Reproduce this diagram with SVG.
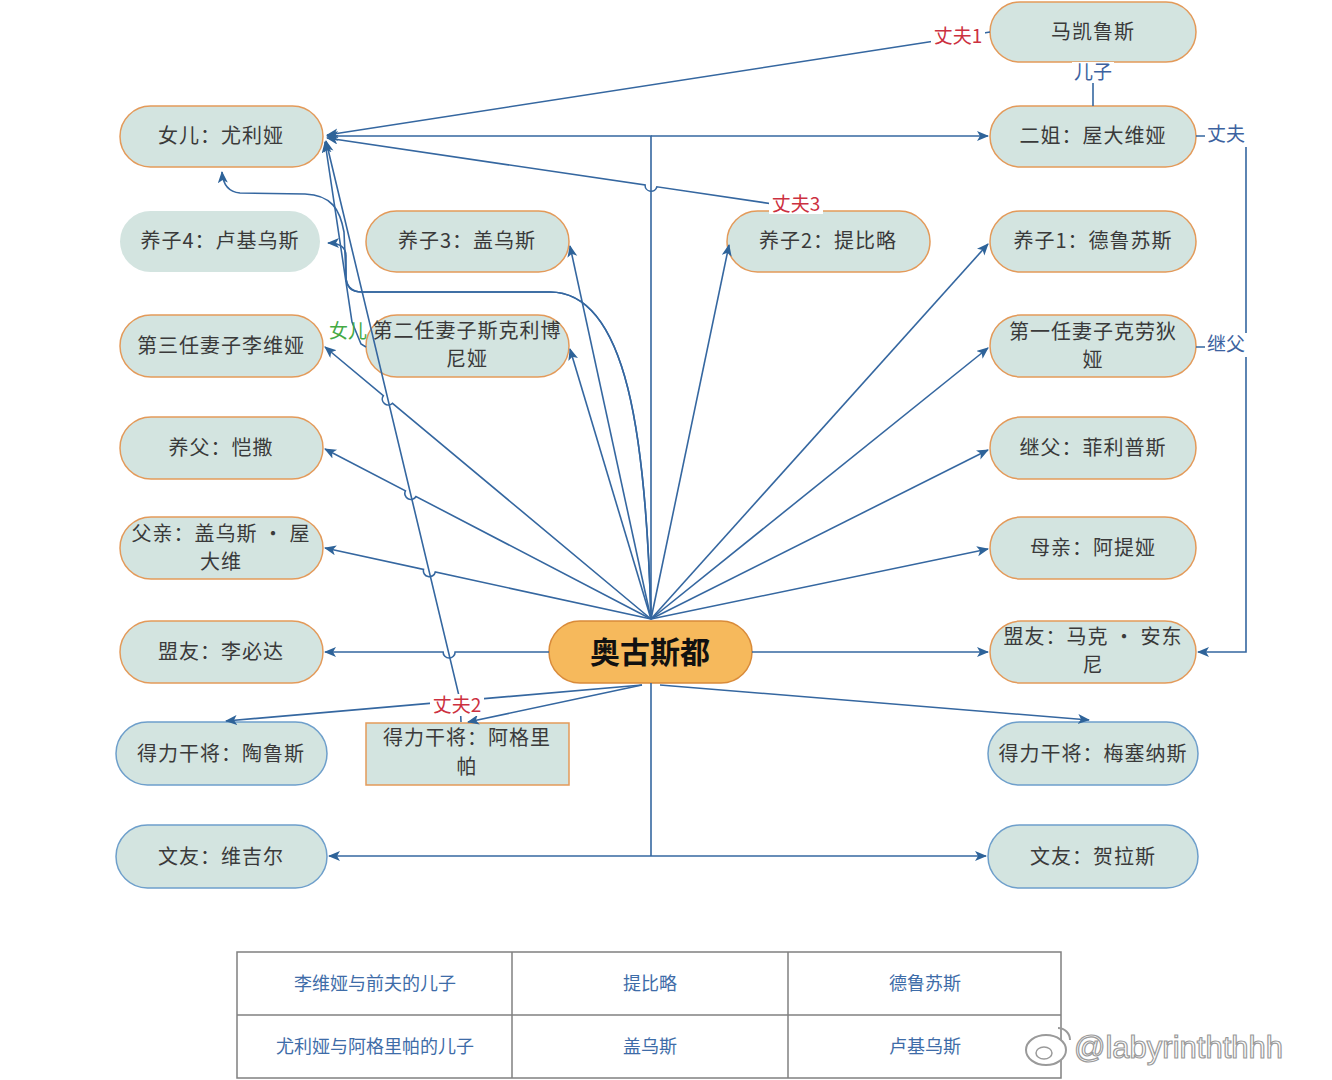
<svg xmlns="http://www.w3.org/2000/svg" width="1332" height="1080" viewBox="0 0 1332 1080">
<style>
.n{fill:#D3E4E0;stroke:#E39A5A;stroke-width:1.5}
.nb{fill:#D3E4E0;stroke:#6E9FCB;stroke-width:1.5}
.nn{fill:#D3E4E0;stroke:none}
.t{font-family:"Noto Sans CJK SC","Liberation Sans",sans-serif;font-size:20px;fill:#3a3a3a;text-anchor:middle;letter-spacing:1px}
.c{fill:none;stroke:#3567A0;stroke-width:1.6}
.ca{fill:none;stroke:#3567A0;stroke-width:1.6;marker-end:url(#ar)}
.lr{font-family:"Noto Sans CJK SC","Liberation Sans",sans-serif;font-size:19px;fill:#CC3040;text-anchor:middle}
.lb{font-family:"Noto Sans CJK SC","Liberation Sans",sans-serif;font-size:19px;fill:#3C62A0;text-anchor:middle}
.lg{font-family:"Noto Sans CJK SC","Liberation Sans",sans-serif;font-size:19px;fill:#44AA44;text-anchor:middle}
.bg{fill:#ffffff}
.tb{font-family:"Noto Sans CJK SC","Liberation Sans",sans-serif;font-size:18px;fill:#3E6CA8;text-anchor:middle}
</style>
<defs>
<marker id="ar" markerUnits="userSpaceOnUse" markerWidth="14" markerHeight="12" refX="11" refY="5" orient="auto">
<path d="M0,0 L12,5 L0,10 L3,5 z" fill="#2E6399"/>
</marker>
</defs>
<rect width="1332" height="1080" fill="#ffffff"/>

<g id="node-makailusi"><rect class="n" x="990" y="2" width="206" height="60" rx="30"/><text class="t" x="1093" y="39">马凯鲁斯</text></g>
<g id="node-nver"><rect class="n" x="120" y="106" width="203" height="61" rx="30.5"/><text class="t" x="221" y="143">女儿：尤利娅</text></g>
<g id="node-erjie"><rect class="n" x="990" y="106" width="206" height="61" rx="30.5"/><text class="t" x="1093" y="143">二姐：屋大维娅</text></g>
<g id="node-yangzi4"><rect class="nn" x="120" y="211" width="200" height="61" rx="30.5"/><text class="t" x="220" y="248">养子4：卢基乌斯</text></g>
<g id="node-yangzi3"><rect class="n" x="366" y="211" width="203" height="61" rx="30.5"/><text class="t" x="467" y="248">养子3：盖乌斯</text></g>
<g id="node-yangzi2"><rect class="n" x="727" y="211" width="203" height="61" rx="30.5"/><text class="t" x="828" y="248">养子2：提比略</text></g>
<g id="node-yangzi1"><rect class="n" x="990" y="211" width="206" height="61" rx="30.5"/><text class="t" x="1093" y="248">养子1：德鲁苏斯</text></g>
<g id="node-qi3"><rect class="n" x="120" y="315" width="203" height="62" rx="31"/><text class="t" x="221" y="353">第三任妻子李维娅</text></g>
<g id="node-qi2"><rect class="n" x="366" y="315" width="203" height="62" rx="31"/><text class="t" x="467" y="338">第二任妻子斯克利博</text><text class="t" x="467" y="366">尼娅</text></g>
<g id="node-qi1"><rect class="n" x="990" y="315" width="206" height="62" rx="31"/><text class="t" x="1093" y="339">第一任妻子克劳狄</text><text class="t" x="1093" y="367">娅</text></g>
<g id="node-yangfu"><rect class="n" x="120" y="417" width="203" height="62" rx="31"/><text class="t" x="221" y="455">养父：恺撒</text></g>
<g id="node-jifu"><rect class="n" x="990" y="417" width="206" height="62" rx="31"/><text class="t" x="1093" y="455">继父：菲利普斯</text></g>
<g id="node-fuqin"><rect class="n" x="120" y="517" width="203" height="62" rx="31"/><text class="t" x="221" y="541">父亲：盖乌斯 · 屋</text><text class="t" x="221" y="569">大维</text></g>
<g id="node-muqin"><rect class="n" x="990" y="517" width="206" height="62" rx="31"/><text class="t" x="1093" y="555">母亲：阿提娅</text></g>
<g id="node-libida"><rect class="n" x="120" y="621" width="203" height="62" rx="31"/><text class="t" x="221" y="659">盟友：李必达</text></g>
<g id="node-augustus"><rect x="549" y="621" width="203" height="62" rx="31" fill="#F6B95C" stroke="#D98B3A" stroke-width="1.5"/><text x="650" y="663" font-family="Noto Sans CJK SC,Liberation Serif,serif" font-size="30" font-weight="700" fill="#111" text-anchor="middle">奥古斯都</text></g>
<g id="node-antony"><rect class="n" x="990" y="621" width="206" height="62" rx="31"/><text class="t" x="1093" y="644">盟友：马克 · 安东</text><text class="t" x="1093" y="672">尼</text></g>
<g id="node-taolusi"><rect class="nb" x="116" y="722" width="211" height="63" rx="31.5"/><text class="t" x="221" y="761">得力干将：陶鲁斯</text></g>
<g id="node-agelipa"><rect class="n" x="366" y="723" width="203" height="62"/><text class="t" x="467" y="745">得力干将：阿格里</text><text class="t" x="467" y="774">帕</text></g>
<g id="node-meisainasi"><rect class="nb" x="988" y="722" width="210" height="63" rx="31.5"/><text class="t" x="1093" y="761">得力干将：梅塞纳斯</text></g>
<g id="node-weijier"><rect class="nb" x="116" y="825" width="211" height="63" rx="31.5"/><text class="t" x="221" y="864">文友：维吉尔</text></g>
<g id="node-helasi"><rect class="nb" x="988" y="825" width="210" height="63" rx="31.5"/><text class="t" x="1093" y="864">文友：贺拉斯</text></g>

<g id="connectors">
<path class="ca" d="M990,32 L935,41 L327,135"/>
<path class="ca" d="M780,205 L656.9,186.8 A6 6 0 0 1 645.1,185.05 L327,138"/>
<path class="ca" d="M651,619 L651,136 L327,136"/>
<path class="ca" d="M651,136 L988,136"/>
<path class="ca" d="M651,619 L988,244"/>
<path class="ca" d="M651,619 L988,348"/>
<path class="ca" d="M651,619 L988,450"/>
<path class="ca" d="M651,619 L988,549"/>
<path class="ca" d="M651,619 L729,245"/>
<path class="ca" d="M651,619 L570,246"/>
<path class="ca" d="M651,619 L570,349"/>
<path class="ca" d="M651,619 L392.5,403.3 A6 6 0 0 1 383.3,395.7 L325,347"/>
<path class="ca" d="M651,619 L416,496.5 A6 6 0 0 1 405.4,490.9 L325,449"/>
<path class="ca" d="M651,619 L435.3,572 A6 6 0 0 1 423.5,569.4 L325,548"/>
<path class="ca" d="M651,619 C646,440 628,292 550,292 L362,292 C351,292 346,286 346,276 L346,256 C346,247 340,243 328,243"/>
<path class="ca" d="M651,619 C646,440 628,292 550,292 L362,292 C351,292 346,286 346,276 L344,232 C340,210 332,195 305,194 L240,193 C229,192 223,186 222,172"/>
<path class="ca" d="M549,652 L455.1,652 A6 6 0 0 1 443.1,652 L325,652"/>
<path class="ca" d="M752,652 L988,652"/>
<path class="c" d="M651,683 L651,856"/>
<path class="ca" d="M651,856 L329,856"/>
<path class="ca" d="M651,856 L986,856"/>
<path class="ca" d="M642,685 L226,721"/>
<path class="ca" d="M642,685 L468,722"/>
<path class="ca" d="M660,685 L1089,720"/>
<path class="ca" d="M461,722 L460,700 L326,141"/>
<path class="ca" d="M366,347 L361,344 L352,322 L325,142"/>
<path class="ca" d="M1196,136 L1246,136 L1246,652 L1198,652"/>
<path class="c" d="M1196,347 L1246,347"/>
<path class="c" d="M1093,62 L1093,106"/>
</g>

<g id="labels">
<rect class="bg" x="931" y="24" width="54" height="24"/><text class="lr" x="958" y="43">丈夫1</text>
<rect class="bg" x="769" y="193" width="54" height="21"/><text class="lr" x="796" y="211">丈夫3</text>
<rect class="bg" x="430" y="694" width="54" height="22"/><text class="lr" x="457" y="712">丈夫2</text>
<rect class="bg" x="1072" y="62" width="42" height="21"/><text class="lb" x="1093" y="79">儿子</text>
<rect class="bg" x="1205" y="123" width="42" height="24"/><text class="lb" x="1226" y="141">丈夫</text>
<rect class="bg" x="1205" y="333" width="42" height="24"/><text class="lb" x="1226" y="351">继父</text>
<text class="lg" x="348" y="338">女儿</text>
</g>

<g id="table">
<rect x="237" y="952" width="824" height="126" fill="#fff" stroke="#808080" stroke-width="1.5"/>
<line x1="237" y1="1015" x2="1061" y2="1015" stroke="#808080" stroke-width="1.5"/>
<line x1="512" y1="952" x2="512" y2="1078" stroke="#808080" stroke-width="1.5"/>
<line x1="788" y1="952" x2="788" y2="1078" stroke="#808080" stroke-width="1.5"/>
<text class="tb" x="375" y="990">李维娅与前夫的儿子</text>
<text class="tb" x="650" y="990">提比略</text>
<text class="tb" x="925" y="990">德鲁苏斯</text>
<text class="tb" x="375" y="1053">尤利娅与阿格里帕的儿子</text>
<text class="tb" x="650" y="1053">盖乌斯</text>
<text class="tb" x="925" y="1053">卢基乌斯</text>
</g>

<g id="watermark">
<ellipse cx="1046" cy="1050" rx="20" ry="15" fill="#fff" stroke="#9a9a9a" stroke-width="2"/>
<ellipse cx="1044" cy="1053" rx="8" ry="6" fill="none" stroke="#9a9a9a" stroke-width="1.5"/>
<path d="M1058,1028 a12 12 0 0 1 12 12" fill="none" stroke="#9a9a9a" stroke-width="2"/>
<text x="1074" y="1058" font-family="Liberation Sans,sans-serif" font-size="31" fill="#ffffff" stroke="#9a9a9a" stroke-width="1.2">@labyrinththhh</text>
</g>
</svg>
